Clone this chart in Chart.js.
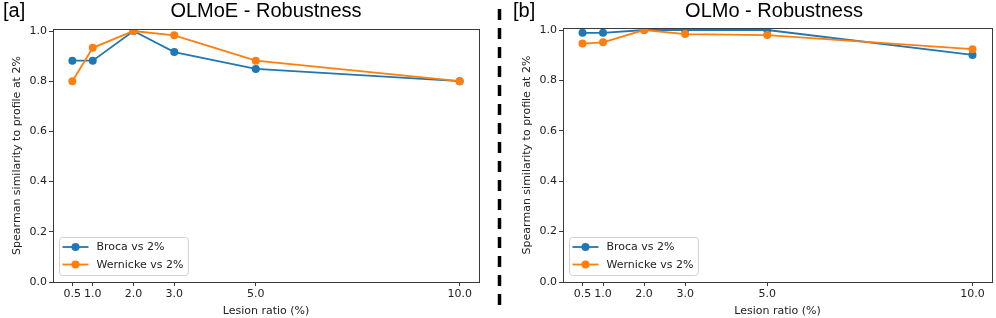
<!DOCTYPE html>
<html>
<head>
<meta charset="utf-8">
<script src="https://cdn.jsdelivr.net/npm/chart.js@4.4.1/dist/chart.umd.min.js"></script>
<style>
  body { margin: 0; background: #fff; }
  #wrap { position: relative; width: 996px; height: 318px; background: #fff; }
  .panel { position: absolute; top: 0; height: 318px; }
</style>
</head>
<body>
<div id="wrap">
  <div class="panel" style="left:0;width:502px"><canvas id="chartA"></canvas></div>
  <div class="panel" style="left:502px;width:494px"><canvas id="chartB"></canvas></div>
</div>
<script>
// lesion ratios (%) on the x axis
const lesionRatios = [0.5, 1.0, 2.0, 3.0, 5.0, 10.0];
const xTicks = [0.5, 1.0, 2.0, 3.0, 5.0, 10.0];
const yTicks = [0.0, 0.2, 0.4, 0.6, 0.8, 1.0];

// OLMoE panel
const olmoeBroca = [0.882, 0.882, 1.0, 0.916, 0.849, 0.800];
const olmoeWernicke = [0.800, 0.933, 1.0, 0.983, 0.882, 0.800];

// OLMo panel
const olmoBroca = [0.989, 0.989, 1.0, 1.0, 1.0, 0.901];
const olmoWernicke = [0.946, 0.951, 1.0, 0.984, 0.980, 0.924];

const seriesLabels = ['Broca vs 2%', 'Wernicke vs 2%'];
const seriesColors = ['#1f77b4', '#ff7f0e'];

const tickFont = { family: '"DejaVu Sans", sans-serif', size: 11 };
const axisColor = '#3a3a3a';

// frame, titles, legend and separator (matplotlib look)
const panelDecor = {
  id: 'panelDecor',
  afterDraw(chart, args, opts) {
    const ctx = chart.ctx;
    const a = chart.chartArea;
    ctx.save();

    // box around plot
    ctx.strokeStyle = axisColor;
    ctx.lineWidth = 1;
    ctx.strokeRect(Math.round(a.left) + 0.5, Math.round(a.top) + 0.5,
      Math.round(a.right - a.left), Math.round(a.bottom - a.top));

    // titles
    ctx.fillStyle = '#000';
    ctx.font = '20px "Liberation Sans", Arial, sans-serif';
    ctx.textBaseline = 'alphabetic';
    ctx.textAlign = 'center';
    const cx = opts.titleX != null ? opts.titleX : (a.left + a.right) / 2;
    ctx.fillText(opts.title, cx, 17);
    ctx.textAlign = 'left';
    ctx.fillText(opts.tag, opts.tagX, 17);

    // legend, lower left inside plot
    ctx.font = '11px "DejaVu Sans", sans-serif';
    const ds = chart.data.datasets;
    let textW = 0;
    ds.forEach(d => { textW = Math.max(textW, ctx.measureText(d.label).width); });
    const bx = a.left + 6.5;
    const bh = 38;
    const by = a.bottom - 7 - bh + 0.5;
    const bw = 37 + textW + 5;
    ctx.beginPath();
    ctx.roundRect(bx, by, bw, bh, 3);
    ctx.fillStyle = 'rgba(255,255,255,0.8)';
    ctx.fill();
    ctx.strokeStyle = '#d0d0d0';
    ctx.lineWidth = 1;
    ctx.stroke();
    ds.forEach((d, i) => {
      const ry = by + 9.5 + i * 17.5;
      ctx.strokeStyle = d.borderColor;
      ctx.lineWidth = 1.8;
      ctx.beginPath();
      ctx.moveTo(bx + 3, ry);
      ctx.lineTo(bx + 29, ry);
      ctx.stroke();
      ctx.fillStyle = d.borderColor;
      ctx.beginPath();
      ctx.arc(bx + 16, ry, 4, 0, Math.PI * 2);
      ctx.fill();
      ctx.fillStyle = '#222';
      ctx.textAlign = 'left';
      ctx.textBaseline = 'middle';
      ctx.fillText(d.label, bx + 37, ry + 0.5);
    });

    // dashed divider between panels
    if (opts.separatorX != null) {
      ctx.strokeStyle = '#000';
      ctx.lineWidth = 3.5;
      ctx.setLineDash([11, 8]);
      ctx.beginPath();
      ctx.moveTo(opts.separatorX, 9);
      ctx.lineTo(opts.separatorX, 308);
      ctx.stroke();
    }
    ctx.restore();
  }
};

function makePanel(canvasId, broca, wernicke, decor, layout) {
  const series = [broca, wernicke];
  const datasets = series.map((vals, i) => ({
    label: seriesLabels[i],
    data: lesionRatios.map((x, j) => ({ x: x, y: vals[j] })),
    borderColor: seriesColors[i],
    backgroundColor: seriesColors[i],
    borderWidth: 1.8,
    pointRadius: 4,
    pointHoverRadius: 4,
    pointBorderWidth: 0,
    tension: 0,
    order: 1 - i  // orange drawn on top
  }));

  return new Chart(document.getElementById(canvasId), {
    type: 'line',
    data: { datasets: datasets },
    options: {
      responsive: true,
      maintainAspectRatio: false,
      animation: false,
      events: [],
      layout: { padding: { top: layout.top, right: layout.right, left: 0, bottom: 0 } },
      plugins: {
        legend: { display: false },
        tooltip: { enabled: false },
        panelDecor: decor
      },
      scales: {
        x: {
          type: 'linear',
          min: 0.025,
          max: 10.475,
          afterBuildTicks: s => { s.ticks = xTicks.map(v => ({ value: v })); },
          afterFit: s => { s.height = 318 - layout.bottom; },
          grid: { drawOnChartArea: false, drawTicks: true, tickLength: 4, color: axisColor },
          border: { display: false },
          ticks: {
            autoSkip: false, maxRotation: 0, minRotation: 0, padding: 2,
            color: '#222', font: tickFont,
            callback: v => Number(v).toFixed(1)
          },
          title: {
            display: true, text: 'Lesion ratio (%)', color: '#222',
            font: tickFont, padding: { top: 0, bottom: 0 }
          }
        },
        y: {
          min: 0,
          max: 1.008,
          afterBuildTicks: s => { s.ticks = yTicks.map(v => ({ value: v })); },
          afterFit: s => { s.width = layout.left; },
          grid: { drawOnChartArea: false, drawTicks: true, tickLength: 4, color: axisColor },
          border: { display: false },
          ticks: {
            padding: 2, color: '#222', font: tickFont,
            callback: v => Number(v).toFixed(1)
          },
          title: {
            display: true, text: 'Spearman similarity to profile at 2%', color: '#222',
            font: tickFont, padding: { top: layout.yTitlePad, bottom: 0 }
          }
        }
      }
    },
    plugins: [panelDecor]
  });
}

makePanel('chartA', olmoeBroca, olmoeWernicke,
  { title: 'OLMoE - Robustness', tag: '[a]', tagX: 3, separatorX: 499.5 },
  { left: 53, right: 23, top: 29, bottom: 282, yTitlePad: 10.4 });

makePanel('chartB', olmoBroca, olmoWernicke,
  { title: 'OLMo - Robustness', tag: '[b]', tagX: 11, titleX: 272 },
  { left: 61, right: 3, top: 28, bottom: 282, yTitlePad: 18.4 });
</script>
</body>
</html>
